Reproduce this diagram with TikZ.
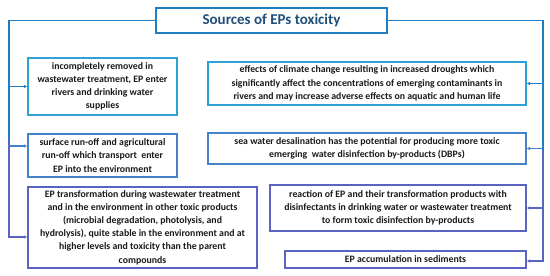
\documentclass[tikz,border=0pt]{standalone}
\usepackage{fontspec}
\setmainfont{Carlito}
\usetikzlibrary{arrows.meta,positioning}
\definecolor{Title}{HTML}{1F4E79}
\definecolor{Rail}{HTML}{1F7DC4}
\definecolor{Cyan}{HTML}{2EA2D3}
\definecolor{Mid}{HTML}{4582CC}
\definecolor{Violet}{HTML}{5A62C2}
\definecolor{Ink}{HTML}{1A1A1A}

\begin{document}
\begin{tikzpicture}[x=1pt,y=-1pt,
      src/.style={draw,line width=1.3pt,fill=white,align=center,inner sep=2pt,
        text=Ink,font=\fontsize{9.8}{13.2}\selectfont\bfseries},
      rail/.style={line width=1.3pt},
      link/.style={line width=1.1pt,-{Latex[length=3.5pt,width=3.5pt]}}
    ]
      \useasboundingbox (0,0) rectangle (550,276);
      % heading
      \node[draw=Rail,line width=1.3pt,minimum width=231pt,minimum height=25pt,
        text=Title,font=\fontsize{15}{17}\selectfont\bfseries] (title) at (271.5,20.5)
        {Sources of EPs toxicity};
      % left side
      \node[src,draw=Cyan,minimum width=149pt,minimum height=57pt] (l1) at (102.5,86.5)
        {incompletely removed in\\wastewater treatment, EP enter\\rivers and drinking water\\supplies};
      \node[src,draw=Mid,minimum width=149pt,minimum height=43pt] (l2) at (102.5,155.5)
        {surface run-off and agricultural\\run-off which transport\ \ enter\\EP into the environment};
      \node[src,draw=Violet,minimum width=229pt,minimum height=81pt] (l3) at (142.5,227.5)
        {EP transformation during wastewater treatment\\and in the environment in other toxic products\\(microbial degradation, photolysis, and\\hydrolysis), quite stable in the environment and at\\higher levels and toxicity than the parent\\compounds};
      % right side
      \node[src,draw=Cyan,minimum width=318pt,minimum height=43pt] (r1) at (367,83.5)
        {effects of climate change resulting in increased droughts which\\significantly affect the concentrations of emerging contaminants in\\rivers and may increase adverse effects on aquatic and human life};
      \node[src,draw=Mid,minimum width=318pt,minimum height=31pt] (r2) at (367,148.5)
        {sea water desalination has the potential for producing more toxic\\emerging\ \ water disinfection by-products (DBPs)};
      \node[src,draw=Violet,minimum width=256pt,minimum height=46pt] (r3) at (398,208)
        {reaction of EP and their transformation products with\\disinfectants in drinking water or wastewater treatment\\to form toxic disinfection by-products};
      \node[src,draw=Violet,minimum width=241pt,minimum height=17pt,inner sep=1pt] (r4) at (405.5,259.5)
        {EP accumulation in sediments};
      % rails
      \coordinate (ltop) at (9,20.5);
      \coordinate (lmid) at (9,140);
      \coordinate (rtop) at (543,20.5);
      \coordinate (rmid) at (543,150);
      \draw[rail,Rail] (title.west) -- (ltop) -- (lmid);
      \draw[rail,Rail] (title.east) -- (rtop) -- (rmid);
      \draw[link,Violet] (lmid) |- ([yshift=-9.5pt]l3.west);
      \draw[link,Violet] (rmid) |- ([yshift=-1.5pt]r4.east);
      \draw[link,Rail] (ltop |- l1.west) -- (l1.west);
      \draw[link,Mid] (ltop |- 0,146) -- (l2.west |- 0,146);
      \draw[link,Rail] (rtop |- r1.east) -- (r1.east);
      \draw[link,Mid] (rtop |- r2.east) -- (r2.east);
      \draw[link,Violet] (rtop |- r3.east) -- (r3.east);
    \end{tikzpicture}
\end{document}
